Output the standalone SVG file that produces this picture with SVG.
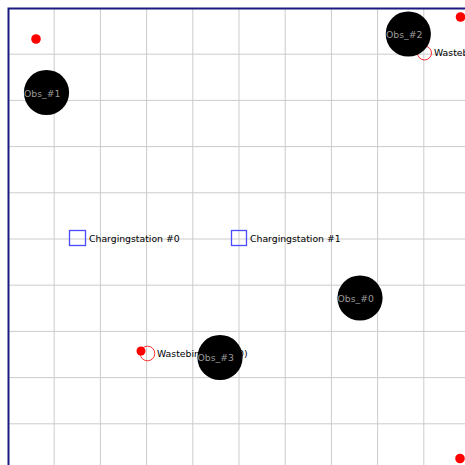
<svg xmlns="http://www.w3.org/2000/svg" width="465" height="465" viewBox="0 0 465 465">
<style>
.grid line{stroke:#cccccc;stroke-width:1}
.border{stroke:#1a1a80;stroke-width:2;fill:none}
.obs circle{fill:#000}
.obs text{fill:#9a9a9a;font-family:"DejaVu Sans",sans-serif;font-size:9.3px}
.lbl{fill:#000;font-family:"DejaVu Sans",sans-serif;font-size:9.3px}
.cs rect{fill:none;stroke:#4a4aff;stroke-width:1.3}
.wb circle{fill:none;stroke:#ff3030;stroke-width:1}
.dot{fill:#ff0000}
</style>
<rect width="465" height="465" fill="#fff"/>
<g class="grid">
<line x1="54.2" y1="8" x2="54.2" y2="470"/>
<line x1="100.4" y1="8" x2="100.4" y2="470"/>
<line x1="146.6" y1="8" x2="146.6" y2="470"/>
<line x1="192.8" y1="8" x2="192.8" y2="470"/>
<line x1="239" y1="8" x2="239" y2="470"/>
<line x1="285.2" y1="8" x2="285.2" y2="470"/>
<line x1="331.4" y1="8" x2="331.4" y2="470"/>
<line x1="377.6" y1="8" x2="377.6" y2="470"/>
<line x1="423.8" y1="8" x2="423.8" y2="470"/>
<line x1="8" y1="54.2" x2="470" y2="54.2"/>
<line x1="8" y1="100.4" x2="470" y2="100.4"/>
<line x1="8" y1="146.6" x2="470" y2="146.6"/>
<line x1="8" y1="192.8" x2="470" y2="192.8"/>
<line x1="8" y1="239" x2="470" y2="239"/>
<line x1="8" y1="285.2" x2="470" y2="285.2"/>
<line x1="8" y1="331.4" x2="470" y2="331.4"/>
<line x1="8" y1="377.6" x2="470" y2="377.6"/>
<line x1="8" y1="423.8" x2="470" y2="423.8"/>
</g>
<path class="border" d="M8.5 470 V8.5 H470"/>
<g id="cs0" class="cs"><rect x="69.5" y="230.5" width="16" height="15"/><text class="lbl" x="89" y="242">Chargingstation #0</text></g>
<g id="cs1" class="cs"><rect x="231.5" y="230.5" width="15" height="15"/><text class="lbl" x="250" y="242">Chargingstation #1</text></g>
<g id="wb1" class="wb"><circle cx="424.5" cy="53" r="7"/><text class="lbl" x="434" y="56">Wastebin #1 (0/10)</text></g>
<g id="wb0" class="wb"><circle cx="147.5" cy="353.5" r="7.3"/><text class="lbl" x="157" y="357">Wastebin #0 (0/10)</text></g>
<g id="dots">
<circle class="dot" cx="36" cy="39" r="4.8"/>
<circle class="dot" cx="460.5" cy="17" r="4.8"/>
<circle class="dot" cx="460" cy="458.5" r="4.8"/>
<circle class="dot" cx="141" cy="351" r="4.5"/>
</g>
<g id="obs1" class="obs"><circle cx="46.5" cy="92.5" r="22.6"/><text x="24" y="96.5">Obs_#1</text></g>
<g id="obs2" class="obs"><circle cx="408.3" cy="34" r="22.6"/><text x="386" y="37.5">Obs_#2</text></g>
<g id="obs0" class="obs"><circle cx="360" cy="298" r="22.6"/><text x="337.5" y="301.5">Obs_#0</text></g>
<g id="obs3" class="obs"><circle cx="220" cy="357.5" r="22.6"/><text x="197.5" y="361">Obs_#3</text></g>
<g id="connectors"/>
</svg>
